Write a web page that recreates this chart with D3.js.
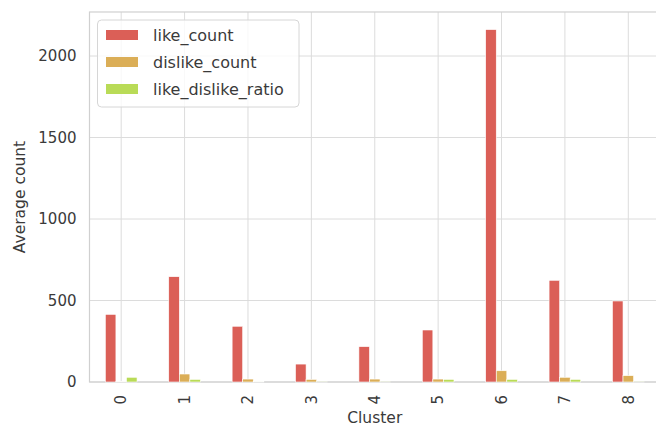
<!DOCTYPE html>
<html>
<head>
<meta charset="utf-8">
<script src="https://cdn.jsdelivr.net/npm/d3@7"></script>
<style>
  body { margin: 0; background: #fff; }
  svg { display: block; overflow: hidden; }
  text { font-family: "DejaVu Sans", sans-serif; fill: #3a3a3a; }
</style>
</head>
<body>
<div id="chart"></div>
<script>
  const clusters = ["0", "1", "2", "3", "4", "5", "6", "7", "8"]
  const seriesNames = ["like_count", "dislike_count", "like_dislike_ratio"]
  const likeCount = [415, 646, 342, 110, 217, 319, 2162, 624, 497]
  const dislikeCount = [2, 49, 18, 16, 18, 18, 69, 29, 39]
  const likeDislikeRatio = [29, 16, 2, 1, 1, 16, 16, 16, 1]
  const yTicks = [0, 500, 1000, 1500, 2000]
  const colors = ["#db5f57", "#dbae57", "#b9db57"]

  const seriesValues = [likeCount, dislikeCount, likeDislikeRatio]

  const width = 656
  const height = 428
  const plot = { left: 89.5, right: 660, top: 12, bottom: 382 }

  const svg = d3.select("#chart")
    .append("svg")
    .attr("width", width)
    .attr("height", height)

  const x = d3.scaleBand()
    .domain(clusters)
    .range([plot.left, plot.right])

  // pandas puts the bars in the middle half of each slot
  const xInner = d3.scaleBand()
    .domain(seriesNames)
    .range([x.bandwidth() * 0.25, x.bandwidth() * 0.75])

  const y = d3.scaleLinear()
    .domain([0, 2270])
    .range([plot.bottom, plot.top])

  const grid = "#dcdcdc"

  // grid lines
  svg.append("g")
    .selectAll("line")
    .data(yTicks)
    .join("line")
      .attr("x1", plot.left)
      .attr("x2", plot.right)
      .attr("y1", d => y(d))
      .attr("y2", d => y(d))
      .attr("stroke", grid)
      .attr("stroke-width", 1)

  svg.append("g")
    .selectAll("line")
    .data(clusters)
    .join("line")
      .attr("x1", d => x(d) + x.bandwidth() / 2)
      .attr("x2", d => x(d) + x.bandwidth() / 2)
      .attr("y1", plot.top)
      .attr("y2", plot.bottom)
      .attr("stroke", grid)
      .attr("stroke-width", 1)

  // frame
  svg.append("rect")
    .attr("x", plot.left)
    .attr("y", plot.top)
    .attr("width", plot.right - plot.left)
    .attr("height", plot.bottom - plot.top)
    .attr("fill", "none")
    .attr("stroke", "#d0d0d0")
    .attr("stroke-width", 1.2)

  // bars
  const rows = clusters.map((c, i) => ({ cluster: c, values: seriesNames.map((s, j) => ({ key: s, value: seriesValues[j][i], color: colors[j] })) }))

  svg.append("g")
    .selectAll("g")
    .data(rows)
    .join("g")
      .attr("transform", d => `translate(${x(d.cluster)},0)`)
    .selectAll("rect")
    .data(d => d.values)
    .join("rect")
      .attr("x", d => xInner(d.key))
      .attr("width", xInner.bandwidth())
      .attr("y", d => y(d.value))
      .attr("height", d => y(0) - y(d.value))
      .attr("fill", d => d.color)
      .attr("stroke", "#fff")
      .attr("stroke-width", 0.6)

  // axes labels
  const yAxis = d3.axisLeft(y).tickValues(yTicks).tickFormat(d3.format("d")).tickSize(0).tickPadding(13)
  svg.append("g")
    .attr("transform", `translate(${plot.left},0)`)
    .call(yAxis)
    .call(g => g.select(".domain").remove())
    .selectAll("text")
      .attr("font-size", 15)
      .attr("font-family", "DejaVu Sans, sans-serif")
      .attr("fill", "#3a3a3a")

  const xAxis = d3.axisBottom(x).tickSize(0).tickPadding(0)
  svg.append("g")
    .attr("transform", `translate(0,${plot.bottom})`)
    .call(xAxis)
    .call(g => g.select(".domain").remove())
    .selectAll("text")
      .attr("font-size", 15)
      .attr("font-family", "DejaVu Sans, sans-serif")
      .attr("fill", "#3a3a3a")
      .attr("text-anchor", "end")
      .attr("dy", "0.35em")
      .attr("y", 0)
      .attr("transform", "translate(0,13) rotate(-90)")

  svg.append("text")
    .attr("x", (plot.left + plot.right) / 2)
    .attr("y", 423)
    .attr("text-anchor", "middle")
    .attr("font-size", 15.5)
    .text("Cluster")

  svg.append("text")
    .attr("transform", `translate(25,${(plot.top + plot.bottom) / 2}) rotate(-90)`)
    .attr("text-anchor", "middle")
    .attr("font-size", 15.5)
    .text("Average count")

  // legend
  const legend = svg.append("g")
  legend.append("rect")
    .attr("x", 97.5)
    .attr("y", 20)
    .attr("width", 201.5)
    .attr("height", 87)
    .attr("rx", 4)
    .attr("fill", "#fff")
    .attr("fill-opacity", 0.8)
    .attr("stroke", "#d6d6d6")

  const item = legend.selectAll("g")
    .data(seriesNames)
    .join("g")
      .attr("transform", (d, i) => `translate(106,${35 + i * 27})`)

  item.append("rect")
    .attr("y", -5)
    .attr("width", 32)
    .attr("height", 10)
    .attr("fill", (d, i) => colors[i])

  item.append("text")
    .attr("x", 47)
    .attr("dy", "0.35em")
    .attr("font-size", 16)
    .text(d => d)
</script>
</body>
</html>
